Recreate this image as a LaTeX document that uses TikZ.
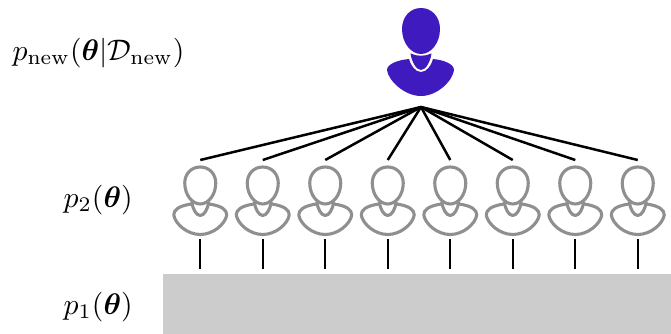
\documentclass[tikz,border=0pt]{standalone}
\usepackage{amsmath,bm}
\usepackage{graphicx}
\definecolor{personblue}{HTML}{3F1BBF}
\definecolor{persongray}{HTML}{8F8F8F}
\definecolor{boxgray}{HTML}{CCCCCC}
\tikzset{
  link/.style={draw=black,line width=2.5pt},
  stem/.style={draw=black,line width=2.2pt},
  lab/.style={inner sep=0pt},
  grayfig/.style={draw=persongray,line width=3.1pt,fill=none,line join=round},
}
\begin{document}
\begin{tikzpicture}[x=1pt,y=-1pt]
\useasboundingbox (0,0) rectangle (671,334);
\node[lab,anchor=west] (lnew) at (12.5,53) {\scalebox{2.97}{$p_{\mathrm{new}}(\bm{\theta}|\mathcal{D}_{\mathrm{new}})$}};
\node[lab,anchor=west] (ltwo) at (63.5,200) {\scalebox{2.97}{$p_2(\bm{\theta})$}};
\node[lab,anchor=west] (lone) at (63.5,307) {\scalebox{2.97}{$p_1(\bm{\theta})$}};
\node[fill=boxgray,minimum width=508pt,minimum height=60pt,inner sep=0pt,anchor=north west] (base) at (163,274) {};
% new person
\fill[personblue] (421,8) .. controls (432,8) and (440,17) .. (440,29) .. controls (440,43) and (431,54) .. (421,54) .. controls (411,54) and (402,43) .. (402,29) .. controls (402,17) and (410,8) .. (421,8) -- cycle;
\fill[personblue] (409,59) .. controls (398,60) and (387,64) .. (387,70) .. controls (388,80) and (404,96) .. (421,96) .. controls (438,96) and (453,80) .. (454,70) .. controls (454,64) and (444,60) .. (433,59) .. controls (431.5,65) and (427,72) .. (421,72) .. controls (415,72) and (410.5,65) .. (409,59) -- cycle;
\fill[personblue] (410.5,53.5) .. controls (417,56.5) and (425,56.5) .. (431.5,53.5) .. controls (430.5,61) and (426,70) .. (421,70) .. controls (416,70) and (411.5,61) .. (410.5,53.5) -- cycle;
\coordinate (apex) at (421,107);
% crowd
\foreach \i/\x in {1/200.25,2/262.75,3/325.25,4/387.75,5/450.25,6/512.75,7/575.25,8/637.75}{
  \begin{scope}[shift={(\x,0)}]
    \draw[grayfig] (0,167) .. controls (9,167) and (15.5,174) .. (15.5,183) .. controls (15.5,195) and (8,204) .. (0,204) .. controls (-8,204) and (-15.5,195) .. (-15.5,183) .. controls (-15.5,174) and (-9,167) .. (0,167) -- cycle;
    \draw[grayfig] (-9,204) .. controls (-22,206) and (-26.5,210) .. (-26.5,215) .. controls (-25,224) and (-13,234.5) .. (0,234.5) .. controls (13,234.5) and (25,224) .. (26.5,215) .. controls (26.5,210) and (22,206) .. (9,204);
    \draw[grayfig] (-8.5,202) .. controls (-7.5,209) and (-4,215.5) .. (0,215.5) .. controls (4,215.5) and (7.5,209) .. (8.5,202);
    \coordinate (top\i) at (0,160);
    \coordinate (feet\i) at (0,239);
    \coordinate (root\i) at (0,269);
  \end{scope}
  \draw[link] (apex) -- (top\i);
  \draw[stem] (feet\i) -- (root\i);
}
\end{tikzpicture}
\end{document}
